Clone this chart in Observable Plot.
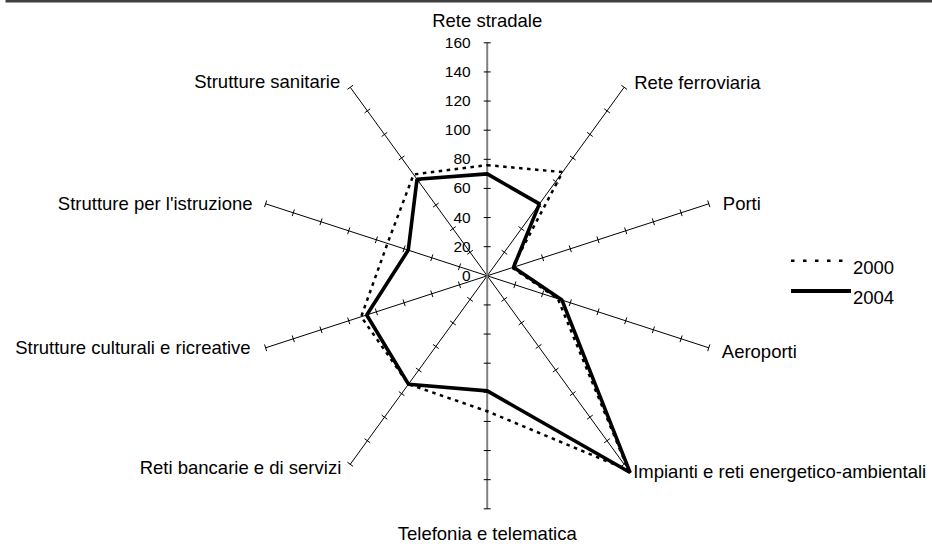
<!DOCTYPE html>
<html><head><meta charset="utf-8">
<script src="https://cdn.jsdelivr.net/npm/d3@7"></script>
<script src="https://cdn.jsdelivr.net/npm/@observablehq/plot@0.6"></script>
<style>
body{margin:0;background:#fff;font-family:"Liberation Sans",Arial,sans-serif;}
#wrap{position:relative;width:932px;height:544px;overflow:hidden;background:#fff;}
#chart svg{display:block;}
#legend{position:absolute;left:788px;top:248px;z-index:5;}
</style></head><body>
<div id="wrap"><div id="chart"></div><div id="legend"></div></div>
<script>
// ---- data ----
const categories = [
  "Rete stradale",
  "Rete ferroviaria",
  "Porti",
  "Aeroporti",
  "Impianti e reti energetico-ambientali",
  "Telefonia e telematica",
  "Reti bancarie e di servizi",
  "Strutture culturali e ricreative",
  "Strutture per l'istruzione",
  "Strutture sanitarie"
];
const values2000 = [76, 88, 18, 51, 165, 93, 92, 91, 72, 86];
const values2004 = [70, 61, 19, 54, 167, 79, 92, 87, 57, 82];
const seriesNames = ["2000", "2004"];
const tickValues = [0, 20, 40, 60, 80, 100, 120, 140, 160];
const axisMax = 160;

// ---- layout ----
const W = 932, H = 544, cx = 486.7, cy = 275.3, R = 233;
const k = R / axisMax;
const FONT = "Liberation Sans, Arial, sans-serif";
const labelOffsets = [[0,-22],[10,-4],[14,0],[13,4],[9,8],[0,25],[-9,4],[-15,0],[-13,0],[-10,-5]];
const n = categories.length;
const ang = i => i * 2 * Math.PI / n;
const px = (i, v) => v * Math.sin(ang(i));
const py = (i, v) => v * Math.cos(ang(i));

const axes = categories.map((c, i) => ({i, c, x2: px(i, axisMax), y2: py(i, axisMax)}));
const h = 3.5 / k;
const ticks = [];
axes.forEach(a => {
  tickValues.filter(v => v > 0).forEach(v => {
    const t = ang(a.i);
    const x = px(a.i, v), y = py(a.i, v);
    ticks.push({x1: x - h * Math.cos(t), y1: y + h * Math.sin(t), x2: x + h * Math.cos(t), y2: y - h * Math.sin(t)});
  });
});
const s2000 = values2000.map((v, i) => ({x: px(i, v), y: py(i, v)}));
const s2004 = values2004.map((v, i) => ({x: px(i, v), y: py(i, v)}));

const labelMarks = axes.map(a => {
  const [dx, dy] = labelOffsets[a.i];
  const s = Math.sin(ang(a.i));
  const anchor = Math.abs(s) < 1e-6 ? "middle" : (s > 0 ? "start" : "end");
  return Plot.text([a], {x: "x2", y: "y2", text: "c", dx, dy, textAnchor: anchor,
    lineAnchor: "middle", fontSize: 18.5, fontFamily: FONT, fill: "black"});
});

const chart = Plot.plot({
  width: W, height: H, margin: 0,
  x: {domain: [-cx / k, (W - cx) / k], range: [0, W], axis: null},
  y: {domain: [-(H - cy) / k, cy / k], range: [H, 0], axis: null},
  style: {background: "white", fontFamily: FONT},
  marks: [
    Plot.frame({anchor: "top", insetLeft: 7, stroke: "#404040", strokeWidth: 4}),
    Plot.link(axes.filter(a => a.i % 5 !== 0), {x1: 0, y1: 0, x2: "x2", y2: "y2", stroke: "black", strokeWidth: 1}),
    Plot.link(axes.filter(a => a.i % 5 === 0), {x1: 0, y1: 0, x2: "x2", y2: "y2", stroke: "#808080", strokeWidth: 2}),
    Plot.link(ticks, {x1: "x1", y1: "y1", x2: "x2", y2: "y2", stroke: "black", strokeWidth: 1}),
    Plot.text(tickValues, {x: 0, y: d => d, text: d => String(d), dx: -16.5, textAnchor: "end",
      lineAnchor: "middle", fontSize: 15.5, fontFamily: FONT, fill: "black"}),
    ...labelMarks,
    Plot.line(s2000, {x: "x", y: "y", curve: "linear-closed", stroke: "black", strokeWidth: 2.5,
      strokeDasharray: "3.5,4.5", strokeLinecap: "butt", strokeLinejoin: "miter"}),
    Plot.line(s2004, {x: "x", y: "y", curve: "linear-closed", stroke: "black", strokeWidth: 3.6,
      strokeLinecap: "butt", strokeLinejoin: "miter"})
  ]
});
document.getElementById("chart").appendChild(chart);

// ---- legend ----
const lg = d3.select("#legend").append("svg").attr("width", 140).attr("height", 64);
const styles = [{dash: "3.5,8.5", w: 2.5}, {dash: null, w: 4}];
seriesNames.forEach((s, j) => {
  const y = 12.7 + j * 30.3;
  lg.append("line").attr("x1", 3).attr("x2", 63).attr("y1", y).attr("y2", y)
    .attr("stroke", "black").attr("stroke-width", styles[j].w)
    .attr("stroke-dasharray", styles[j].dash);
  lg.append("text").attr("x", 65).attr("y", y + 6.5).attr("dominant-baseline", "central")
    .attr("font-size", 18.5).attr("font-family", FONT).text(s);
});
</script>
</body></html>
